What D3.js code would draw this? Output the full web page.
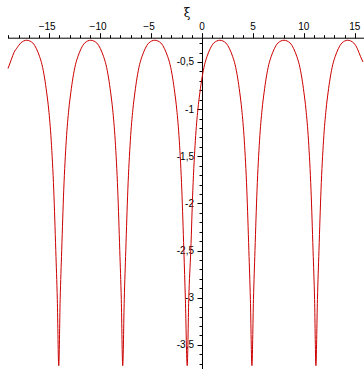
<!DOCTYPE html>
<html>
<head>
<meta charset="utf-8">
<script src="https://cdn.jsdelivr.net/npm/d3@7"></script>
<style>
  html, body { margin: 0; padding: 0; background: #fff; }
  svg { display: block; }
  text { font-family: "Liberation Sans", Arial, sans-serif; font-size: 10px; fill: #000; }
</style>
</head>
<body>
<div id="chart"></div>
<script>
// values, one array per arch: [xi, value]
const arch0 = [[-19.04,-0.57],[-18.7,-0.47],[-18.45,-0.40],[-18.15,-0.35],[-17.8,-0.30],[-17.2,-0.27],
  [-16.6,-0.30],[-16.25,-0.36],[-15.95,-0.44],[-15.7,-0.53],[-15.45,-0.67],[-15.25,-0.82],[-15.05,-1.00],
  [-14.8,-1.33],[-14.55,-1.86],[-14.35,-2.50],[-14.2,-3.02],[-14.06,-3.72]];
const arch1 = [[-13.92,-3.02],[-13.77,-2.50],[-13.57,-1.86],[-13.32,-1.33],[-13.07,-1.00],[-12.87,-0.82],
  [-12.67,-0.67],[-12.42,-0.53],[-12.17,-0.44],[-11.87,-0.36],[-11.52,-0.30],[-10.92,-0.27],[-10.32,-0.30],
  [-9.97,-0.36],[-9.67,-0.44],[-9.42,-0.53],[-9.17,-0.67],[-8.97,-0.82],[-8.77,-1.00],[-8.52,-1.33],
  [-8.27,-1.86],[-8.07,-2.50],[-7.92,-3.02],[-7.78,-3.72]];
const arch2 = [[-7.63,-3.02],[-7.48,-2.50],[-7.28,-1.86],[-7.03,-1.33],[-6.78,-1.00],[-6.58,-0.82],
  [-6.38,-0.67],[-6.13,-0.53],[-5.88,-0.44],[-5.58,-0.36],[-5.23,-0.30],[-4.63,-0.27],[-4.03,-0.30],
  [-3.68,-0.36],[-3.38,-0.44],[-3.13,-0.53],[-2.88,-0.67],[-2.68,-0.82],[-2.48,-1.00],[-2.23,-1.33],
  [-1.98,-1.86],[-1.78,-2.50],[-1.63,-3.02],[-1.45,-3.72]];
const arch3 = [[-1.3,-3.02],[-1.1,-2.50],[-0.9,-1.86],[-0.65,-1.33],[-0.4,-1.00],[-0.2,-0.82],
  [0.0,-0.67],[0.25,-0.53],[0.5,-0.44],[0.8,-0.36],[1.15,-0.30],[1.75,-0.27],[2.35,-0.30],
  [2.7,-0.36],[3.0,-0.44],[3.25,-0.53],[3.5,-0.67],[3.7,-0.82],[3.9,-1.00],[4.15,-1.33],
  [4.4,-1.86],[4.6,-2.50],[4.75,-3.02],[4.9,-3.72]];
const arch4 = [[5.05,-3.02],[5.2,-2.50],[5.4,-1.86],[5.65,-1.33],[5.9,-1.00],[6.1,-0.82],
  [6.3,-0.67],[6.55,-0.53],[6.8,-0.44],[7.1,-0.36],[7.45,-0.30],[8.05,-0.27],[8.65,-0.30],
  [9.0,-0.36],[9.3,-0.44],[9.55,-0.53],[9.8,-0.67],[10.0,-0.82],[10.2,-1.00],[10.45,-1.33],
  [10.7,-1.86],[10.9,-2.50],[11.05,-3.02],[11.18,-3.72]];
const arch5 = [[11.33,-3.02],[11.48,-2.50],[11.68,-1.86],[11.93,-1.33],[12.18,-1.00],[12.38,-0.82],
  [12.58,-0.67],[12.83,-0.53],[13.08,-0.44],[13.38,-0.36],[13.73,-0.30],[14.3,-0.27],[14.9,-0.30],
  [15.25,-0.36],[15.55,-0.44],[15.8,-0.50]];

const xMajor = [-15, -10, -5, 0, 5, 10, 15];
const yMajor = [-0.5, -1, -1.5, -2, -2.5, -3, -3.5];
const yLabels = ["-0,5", "-1", "-1,5", "-2", "-2,5", "-3", "-3,5"];

const width = 364, height = 369;
const points = [...arch0, ...arch1, ...arch2, ...arch3, ...arch4, ...arch5];

const x = d3.scaleLinear().domain([-19.04, 15.9]).range([8, 364]);
const y = d3.scaleLinear().domain([-0.243, -3.76]).range([37.7, 369.4]);

const svg = d3.select("#chart").append("svg")
  .attr("width", width).attr("height", height);

const y0 = y(-0.243);
const x0 = x(0);

// x axis along the top
const xMinor = d3.range(-19, 16, 1).filter((d) => d % 5 !== 0);
const xAxisG = svg.append("g").attr("transform", `translate(0,${y0})`);
xAxisG.append("line")
  .attr("x1", 8).attr("x2", width).attr("y1", 0.5).attr("y2", 0.5)
  .attr("stroke", "#000");
xAxisG.selectAll("line.minor").data(xMinor).join("line")
  .attr("class", "minor")
  .attr("x1", (d) => Math.round(x(d)) + 0.5).attr("x2", (d) => Math.round(x(d)) + 0.5)
  .attr("y1", 0.5).attr("y2", -2.5).attr("stroke", "#000");
xAxisG.selectAll("line.major").data(xMajor).join("line")
  .attr("class", "major")
  .attr("x1", (d) => Math.round(x(d)) + 0.5).attr("x2", (d) => Math.round(x(d)) + 0.5)
  .attr("y1", 0.5).attr("y2", -4.5).attr("stroke", "#000");
xAxisG.selectAll("text").data(xMajor).join("text")
  .attr("x", (d) => x(d) - (d < 0 ? 2 : 0))
  .attr("y", -8)
  .attr("text-anchor", "middle")
  .text((d) => (d < 0 ? "\u2212" + Math.abs(d) : String(d)));

// y axis through xi = 0
const yMinor = d3.range(-0.3, -3.75, -0.1).map((d) => +d.toFixed(1))
  .filter((d) => Math.abs(d * 2 - Math.round(d * 2)) > 1e-6);
const yAxisG = svg.append("g").attr("transform", `translate(${Math.round(x0)},0)`);
yAxisG.append("line")
  .attr("x1", 0.5).attr("x2", 0.5).attr("y1", y0).attr("y2", height)
  .attr("stroke", "#000");
yAxisG.selectAll("line.minor").data(yMinor).join("line")
  .attr("class", "minor")
  .attr("x1", 0.5).attr("x2", -2.5)
  .attr("y1", (d) => Math.round(y(d)) + 0.5).attr("y2", (d) => Math.round(y(d)) + 0.5)
  .attr("stroke", "#000");
yAxisG.selectAll("line.major").data(yMajor).join("line")
  .attr("class", "major")
  .attr("x1", 0.5).attr("x2", -4.5)
  .attr("y1", (d) => Math.round(y(d)) + 0.5).attr("y2", (d) => Math.round(y(d)) + 0.5)
  .attr("stroke", "#000");
yAxisG.selectAll("text").data(yMajor).join("text")
  .attr("x", -8)
  .attr("y", (d) => y(d) + 3.5)
  .attr("text-anchor", "end")
  .text((d, i) => yLabels[i]);

// axis label
svg.append("text")
  .attr("x", x0 - 15).attr("y", 17)
  .attr("text-anchor", "middle")
  .style("font-family", "'DejaVu Serif', serif")
  .style("font-size", "12px")
  .text("\u03BE");

// curve
const line = d3.line()
  .x((d) => x(d[0]))
  .y((d) => y(d[1]))
  .curve(d3.curveMonotoneX);

svg.append("path")
  .datum(points)
  .attr("fill", "none")
  .attr("stroke", "#cc0000")
  .attr("stroke-width", 1)
  .attr("d", line);
</script>
</body>
</html>
